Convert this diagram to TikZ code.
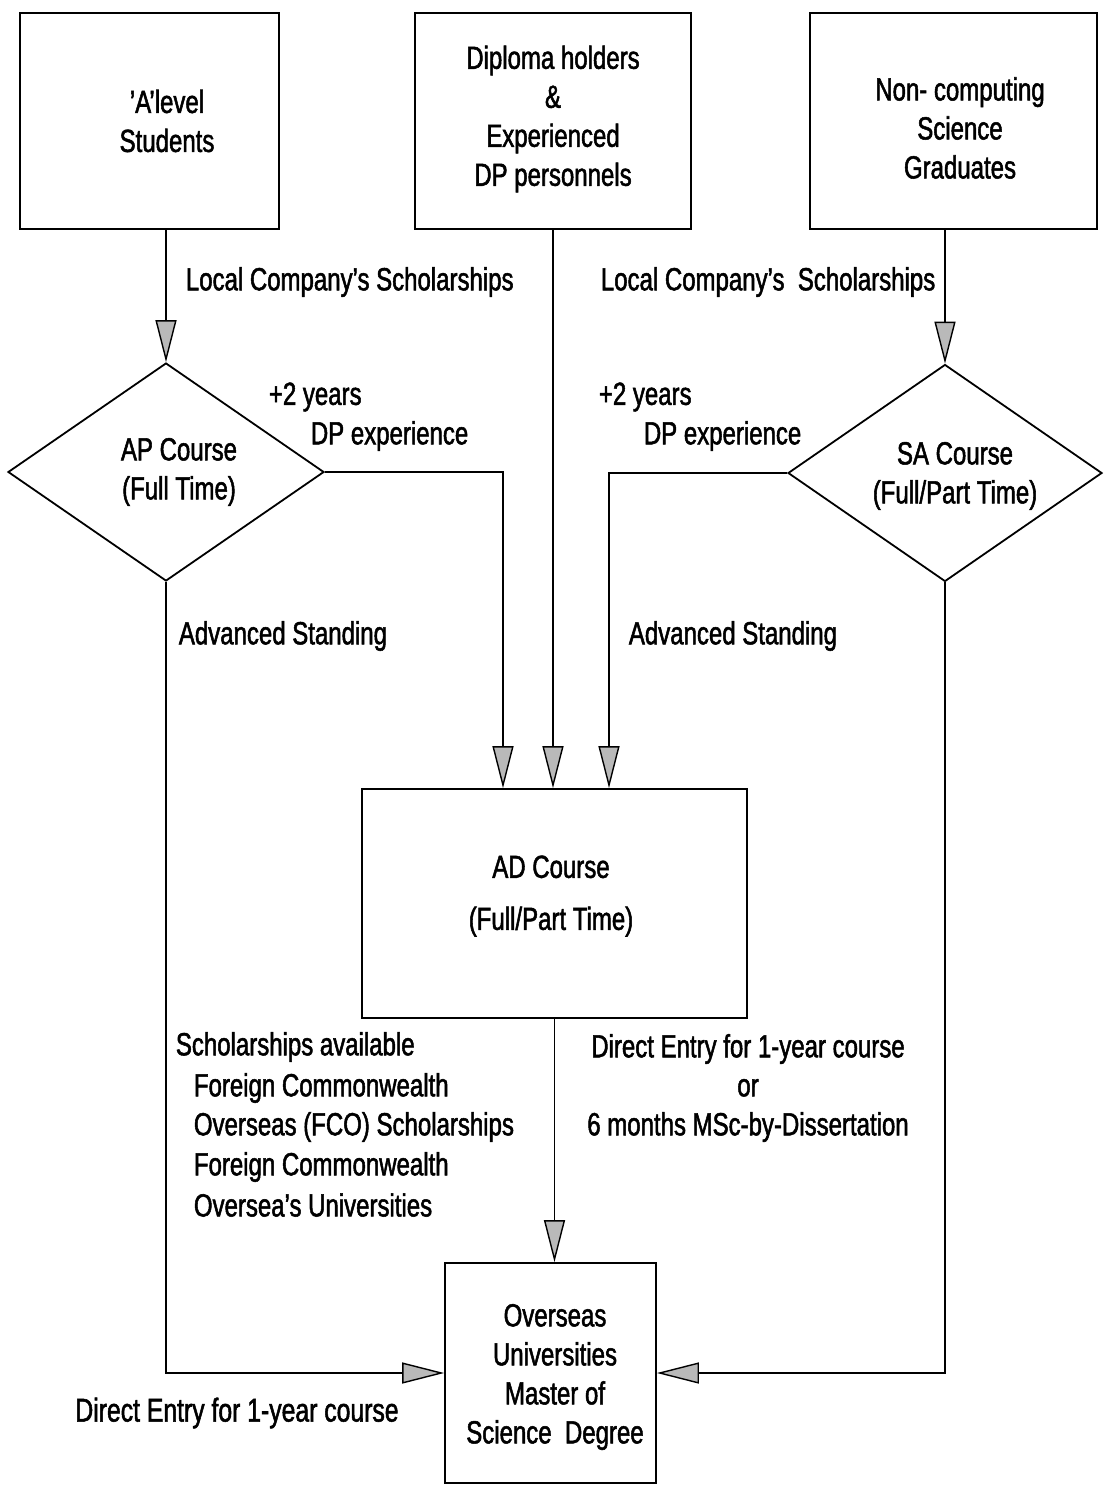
\documentclass[tikz,border=0pt]{standalone}
\usepackage{fontspec}
\setmainfont{Liberation Sans}[FakeStretch=0.75,FakeBold=1.6]
\usetikzlibrary{arrows.meta,shapes.geometric}
\begin{document}
\begin{tikzpicture}[x=1pt,y=-1pt,line width=1.8pt,
  box/.style={draw,rectangle,inner sep=0pt},
  dia/.style={draw,diamond,inner sep=0pt},
  txt/.style={font=\fontsize{32}{39}\selectfont,align=center,inner sep=0pt},
  lbl/.style={font=\fontsize{32}{39}\selectfont,anchor=west,inner sep=0pt},
  arr/.style={-{Triangle[length=42pt,width=21pt,fill=gray!55,line width=1.4pt]}}]
\useasboundingbox (0,0) rectangle (1109,1489);
% boxes
\node[box,minimum width=259pt,minimum height=216pt] (A) at (149.5,121) {};
\node[box,minimum width=276pt,minimum height=216pt] (B) at (553,121) {};
\node[box,minimum width=287pt,minimum height=216pt] (C) at (953.5,121) {};
\node[dia,minimum width=316pt,minimum height=218pt] (ap) at (166,472) {};
\node[dia,minimum width=314pt,minimum height=217pt] (sa) at (945,473) {};
\node[box,minimum width=385pt,minimum height=229pt] (ad) at (554.5,903.5) {};
\node[box,minimum width=211pt,minimum height=220pt] (ms) at (550.5,1373) {};
% box texts
\node[txt] (At) at (167,121) {'A'level\\Students};
\node[txt] (Bt) at (553,119) {Diploma holders\\\&\\Experienced\\DP personnels};
\node[txt] (Ct) at (960,128) {Non- computing\\Science\\Graduates};
\node[txt] (apt) at (179,472) {AP Course\\(Full Time)};
\node[txt] (sat) at (955,476) {SA Course\\(Full/Part Time)};
\node[txt,font=\fontsize{32}{52}\selectfont] (adt) at (551,896) {AD Course\\(Full/Part Time)};
\node[txt,font=\fontsize{32}{39}\selectfont] (mst) at (555,1377) {Overseas\\Universities\\Master of\\Science\ \ Degree};
% labels
\node[lbl] (l1) at (185,282) {Local Company's Scholarships};
\node[lbl] (l2) at (600,282) {Local Company's\ \ Scholarships};
\node[lbl] (l3) at (268,397) {+2 years};
\node[lbl] (l4) at (310,436) {DP experience};
\node[lbl] (l5) at (598,397) {+2 years};
\node[lbl] (l6) at (643,436) {DP experience};
\node[lbl] (l7) at (178,636) {Advanced Standing};
\node[lbl] (l8) at (628,636) {Advanced Standing};
\node[lbl] (s1) at (175,1047) {Scholarships available};
\node[lbl] (s2) at (193,1088) {Foreign Commonwealth};
\node[lbl] (s3) at (193,1127) {Overseas (FCO) Scholarships};
\node[lbl] (s4) at (193,1167) {Foreign Commonwealth};
\node[lbl] (s5) at (193,1205) {Oversea's Universities};
\node[txt] (de) at (748,1088) {Direct Entry for 1-year course\\or\\6 months MSc-by-Dissertation};
\node[txt,font=\fontsize{33}{39}\selectfont] (de2) at (237,1413) {Direct Entry for 1-year course};
% connectors
\draw[arr] (A.south -| ap.north) -- (ap.north);
\draw[arr] (C.south -| sa.north) -- (sa.north);
\draw[arr] (ap.east) -| (ad.north -| 503,0);
\draw[arr] (sa.west) -| (ad.north -| 609,0);
\draw[arr] (B.south) -- (B.south |- ad.north);
\draw[arr] (ad.south) -- (ad.south |- ms.north);
\draw[arr] (ap.south) |- (ms.west);
\draw[arr] (sa.south) |- (ms.east);
\end{tikzpicture}
\end{document}
